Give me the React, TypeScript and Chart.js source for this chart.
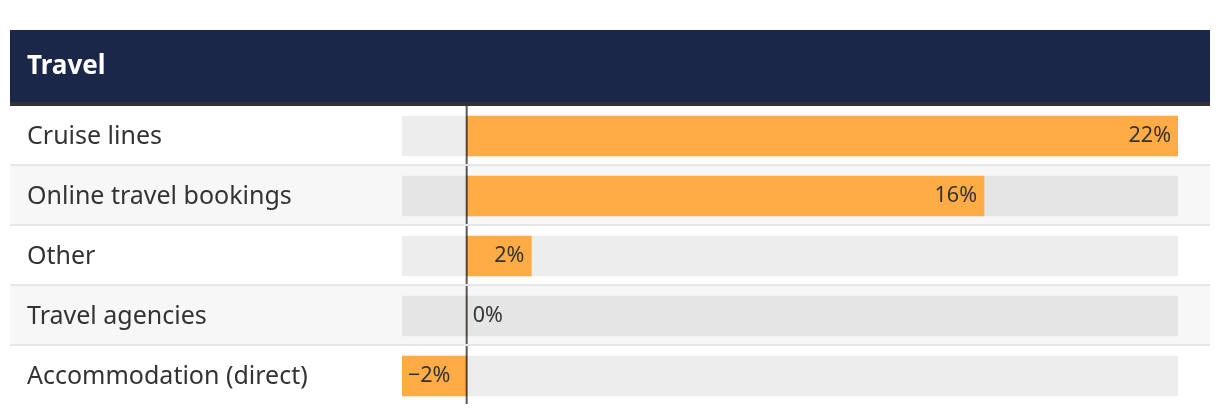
import React, { useEffect, useRef } from "react";
import { Chart, registerables } from "chart.js";

Chart.register(...registerables);

const title = "Travel";
const categories = [
  "Cruise lines",
  "Online travel bookings",
  "Other",
  "Travel agencies",
  "Accommodation (direct)",
];
const values = [22, 16, 2, 0, -2];
const axisMin = -2;
const axisMax = 22;

const FONT = "'Noto Sans', sans-serif";

const panelPlugin = {
  id: "panel",
  beforeDraw(chart: any) {
    const { ctx } = chart;
    const y = chart.scales.y;
    ctx.save();
    ctx.fillStyle = "#ffffff";
    ctx.fillRect(0, 0, chart.width, chart.height);
    // header
    ctx.fillStyle = "#1b2748";
    ctx.fillRect(10, 30, 1200, 72);
    ctx.fillStyle = "#333333";
    ctx.fillRect(10, 102, 1200, 4);
    ctx.fillStyle = "#ffffff";
    ctx.font = `bold 26px ${FONT}`;
    ctx.textBaseline = "middle";
    ctx.textAlign = "left";
    ctx.fillText(title, 27, 67);
    // rows
    const pitch = y.getPixelForValue(1) - y.getPixelForValue(0);
    categories.forEach((label, i) => {
      const c = y.getPixelForValue(i);
      const top = c - pitch / 2;
      if (i % 2 === 1) {
        ctx.fillStyle = "#f7f7f7";
        ctx.fillRect(10, top, 1200, pitch - 2);
      }
      if (i < categories.length - 1) {
        ctx.fillStyle = "#e6e6e6";
        ctx.fillRect(10, top + pitch - 2, 1200, 2);
      }
      ctx.fillStyle = "#333333";
      ctx.font = `25px ${FONT}`;
      ctx.textAlign = "left";
      ctx.textBaseline = "middle";
      ctx.fillText(label, 27, c + 1);
    });
    ctx.restore();
  },
  afterDatasetsDraw(chart: any) {
    const { ctx } = chart;
    const x = chart.scales.x;
    const y = chart.scales.y;
    const pitch = y.getPixelForValue(1) - y.getPixelForValue(0);
    const zx = x.getPixelForValue(0);
    ctx.save();
    // zero line
    ctx.fillStyle = "rgba(0,0,0,0.65)";
    categories.forEach((_, i) => {
      const top = y.getPixelForValue(i) - pitch / 2;
      ctx.fillRect(zx - 1, top, 2, pitch - 2);
    });
    // value labels
    const meta = chart.getDatasetMeta(1);
    ctx.font = `21.5px ${FONT}`;
    ctx.fillStyle = "#333333";
    ctx.textBaseline = "middle";
    meta.data.forEach((el: any, i: number) => {
      const v = values[i];
      const txt = (v < 0 ? "\u2212" + Math.abs(v) : String(v)) + "%";
      if (v > 0) {
        ctx.textAlign = "right";
        ctx.fillText(txt, el.x - 7, el.y);
      } else if (v < 0) {
        ctx.textAlign = "left";
        ctx.fillText(txt, el.x + 6, el.y);
      } else {
        ctx.textAlign = "left";
        ctx.fillText(txt, el.base + 6, el.y);
      }
    });
    ctx.restore();
  },
};

export default function App() {
  const ref = useRef<HTMLCanvasElement | null>(null);
  useEffect(() => {
    if (!ref.current) return;
    const chart = new Chart(ref.current, {
      type: "bar",
      data: {
        labels: categories,
        datasets: [
          {
            data: categories.map(() => [axisMin, axisMax]) as any,
            backgroundColor: "rgba(0,0,0,0.07)",
            grouped: false,
            barThickness: 40,
            order: 2,
          },
          {
            data: values,
            backgroundColor: "#ffab46",
            grouped: false,
            barThickness: 40,
            order: 1,
          },
        ],
      },
      options: {
        indexAxis: "y",
        animation: false,
        responsive: false,
        events: [],
        layout: { padding: { left: 402, right: 42, top: 106, bottom: 8 } },
        plugins: { legend: { display: false }, tooltip: { enabled: false } },
        scales: {
          x: { display: false, min: axisMin, max: axisMax },
          y: { display: false },
        },
      },
      plugins: [panelPlugin],
    });
    return () => chart.destroy();
  }, []);
  return (
    <div style={{ position: "absolute", left: 0, top: 0, width: 1220, height: 414 }}>
      <canvas ref={ref} width={1220} height={414} />
    </div>
  );
}
